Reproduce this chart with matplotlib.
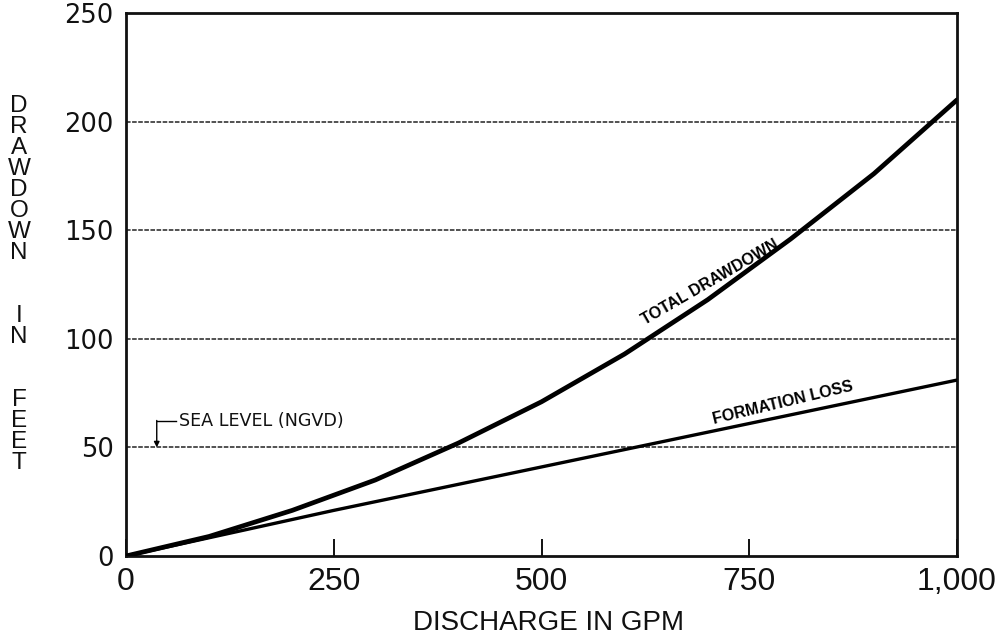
import matplotlib
matplotlib.use("Agg")
import matplotlib.pyplot as plt

# Discharge (gallons per minute) and drawdown (feet)
discharge_gpm = [0, 100, 200, 300, 400, 500, 600, 700, 800, 900, 1000]
total_drawdown_ft = [0, 9, 21, 35, 52, 71, 93, 118, 146, 176, 210]

formation_gpm = [0, 250, 500, 750, 1000]
formation_loss_ft = [0, 21, 41, 61, 81]

x_ticks = [0, 250, 500, 750, 1000]
x_tick_labels = ["0", "250", "500", "750", "1,000"]
y_ticks = [0, 50, 100, 150, 200, 250]
y_tick_labels = ["0", "50", "100", "150", "200", "250"]
grid_levels = [50, 100, 150, 200]

W, H = 997, 643
fig = plt.figure(figsize=(W / 100, H / 100), dpi=100)
fig.patch.set_facecolor("white")

left, right, top, bottom = 126, 957, 13, 556
ax = fig.add_axes([left / W, 1 - bottom / H, (right - left) / W, (bottom - top) / H])
ax.set_xlim(0, 1000)
ax.set_ylim(0, 250)

for s in ax.spines.values():
    s.set_linewidth(2.0)
    s.set_color("#111111")

# horizontal reference lines
for g in grid_levels:
    ax.axhline(g, color="#222222", lw=1.1, ls=(0, (3, 1)), zorder=1)

ax.plot(discharge_gpm, total_drawdown_ft, color="black", lw=3.4,
        solid_capstyle="round", solid_joinstyle="round", zorder=3)
ax.plot(formation_gpm, formation_loss_ft, color="black", lw=2.4,
        solid_capstyle="round", zorder=3)

tick_font = ["Liberation Sans Narrow", "Liberation Sans", "DejaVu Sans"]
ax.set_xticks(x_ticks)
ax.set_xticklabels(x_tick_labels, family=tick_font, fontsize=23)
ax.tick_params(axis="x", direction="in", length=12, width=1.4, pad=8,
               colors="#111111")
ax.set_yticks(y_ticks)
ax.set_yticklabels(y_tick_labels, family="DejaVu Sans", fontsize=18.5)
ax.tick_params(axis="y", length=0, pad=9, colors="#111111")

# curve labels
ax.text(703, 126, "TOTAL DRAWDOWN", rotation=30, ha="center", va="center",
        fontsize=11.5, fontweight="bold", family="Liberation Sans",
        rotation_mode="anchor")
ax.text(790, 70.5, "FORMATION LOSS", rotation=13.5, ha="center", va="center",
        fontsize=11.5, fontweight="bold", family="Liberation Sans",
        rotation_mode="anchor")

# sea level marker
ax.plot([37, 60], [62, 62], color="black", lw=1.0)
ax.annotate("", xy=(37, 50), xytext=(37, 62.4),
            arrowprops=dict(arrowstyle="-|>", lw=1.0, color="black",
                            mutation_scale=8, shrinkA=0, shrinkB=0))
ax.text(64, 62, "SEA LEVEL (NGVD)", ha="left", va="center", fontsize=12.6,
        family="DejaVu Sans", color="#111111")

# axis titles
fig.text(548 / W, 1 - 623 / H, "DISCHARGE IN GPM", ha="center", va="center",
         fontsize=20, family=tick_font, color="#111111")

ylabel_letters = "DRAWDOWN  IN  FEET"
y0, step = 106, 21
for i, ch in enumerate(ylabel_letters):
    if ch != " ":
        fig.text(19 / W, 1 - (y0 + i * step) / H, ch, ha="center", va="center",
                 fontsize=17.5, family="Liberation Sans", color="#111111")

fig.savefig("out.png", dpi=100, facecolor="white")
